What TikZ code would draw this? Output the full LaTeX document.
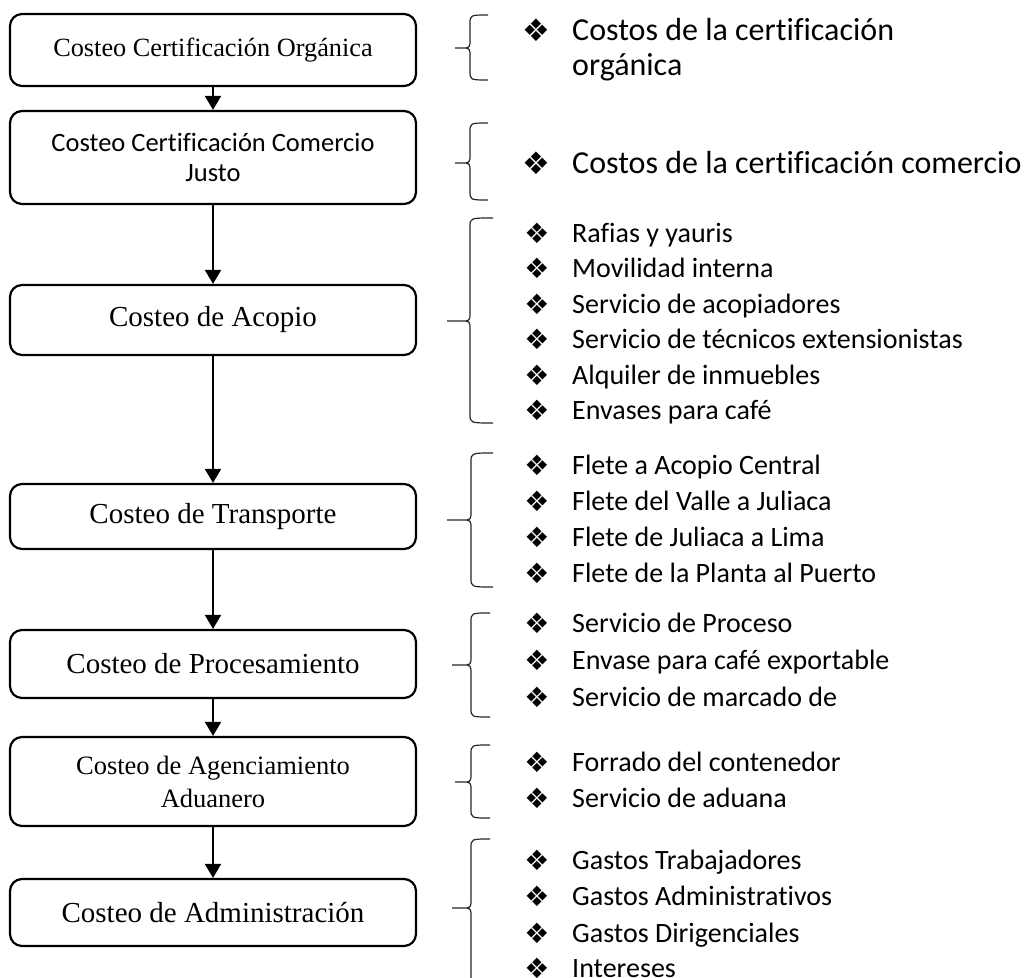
\documentclass[tikz,border=0pt]{standalone}
\usepackage{fontspec}
\setmainfont{Liberation Serif}
\newfontfamily\calfont[Ligatures=NoCommon]{Carlito}
\newfontfamily\dvfont{DejaVu Sans}
\usetikzlibrary{arrows.meta}
\newcommand\costbrace[6]{%
  \draw[brc] (#3,#4) .. controls (#2,#4) .. (#2,#4+9) -- (#2,#5-9)
    .. controls (#2,#5) .. (#2-9,#5) -- (#1,#5) -- (#2-9,#5)
    .. controls (#2,#5) .. (#2,#5+9) -- (#2,#6-9)
    .. controls (#2,#6) .. (#3,#6);}
\newcommand\costrow[3]{%
  \node[bul] (#1b) at (537,#2) {❖};
  \node[itm] (#1t) at (572,#2+9) {#3};}
\begin{document}
\begin{tikzpicture}[x=1pt,y=-1pt,
  box/.style={draw=black, line width=2.2pt, rounded corners=12pt, minimum width=406pt,
    inner sep=0pt, align=center, font=\fontsize{29}{33}\selectfont},
  arr/.style={line width=2pt, -{Triangle[width=16pt,length=14pt]}},
  brc/.style={line width=1.2pt, draw=black!85},
  bul/.style={inner sep=0pt, font=\dvfont\fontsize{28}{28}\selectfont},
  itm/.style={inner sep=0pt, anchor=base west, font=\calfont\fontsize{28}{28}\selectfont},
  big/.style={font=\calfont\fontsize{32}{32}\selectfont}]
\useasboundingbox (0,0) rectangle (1027,977);
% boxes
\node[box, minimum height=72pt, font=\fontsize{26.3}{30}\selectfont] (c1) at (213,50) {Costeo Certificación Orgánica};
\node[box, minimum height=93pt, font=\calfont\fontsize{26.5}{30}\selectfont] (c2) at (213,157.5) {Costeo Certificación Comercio\\Justo};
\node[box, minimum height=70pt] (c3) at (213,320) {Costeo de Acopio};
\node[box, minimum height=65pt] (c4) at (213,516.5) {Costeo de Transporte};
\node[box, minimum height=68pt] (c5) at (213,664) {Costeo de Procesamiento};
\node[box, minimum height=89pt, font=\fontsize{26.5}{33}\selectfont] (c6) at (213,781.5) {Costeo de Agenciamiento\\Aduanero};
\node[box, minimum height=67pt] (c7) at (213,912.5) {Costeo de Administración};
% arrows
\draw[arr] (c1) -- (c2);
\draw[arr] (c2) -- (c3);
\draw[arr] (c3) -- (c4);
\draw[arr] (c4) -- (c5);
\draw[arr] (c5) -- (c6);
\draw[arr] (c6) -- (c7);
% braces
\costbrace{455}{470}{488}{15}{48}{80}
\costbrace{455}{470}{488}{123}{163}{200}
\costbrace{447}{470}{493}{218}{321}{423}
\costbrace{447}{471}{493}{453}{520}{587}
\costbrace{452}{471}{490}{613}{665}{717}
\costbrace{455}{471}{490}{745}{782}{818}
\costbrace{452}{471}{490}{839}{908}{990}
% items
\node[bul, font=\dvfont\fontsize{31}{31}\selectfont] (o1b) at (536,30) {❖};
\node[itm, big] (o1t) at (572,40) {Costos de la certificación};
\node[itm, big] (o1u) at (572,75) {orgánica};
\node[bul, font=\dvfont\fontsize{31}{31}\selectfont] (o2b) at (536,163) {❖};
\node[itm, big] (o2t) at (572,173) {Costos de la certificación comercio};
\costrow{a1}{233}{Rafias y yauris}
\costrow{a2}{268.5}{Movilidad interna}
\costrow{a3}{304}{Servicio de acopiadores}
\costrow{a4}{339.5}{Servicio de técnicos extensionistas}
\costrow{a5}{375}{Alquiler de inmuebles}
\costrow{a6}{410.5}{Envases para café}
\costrow{t1}{465}{Flete a Acopio Central}
\costrow{t2}{501}{Flete del Valle a Juliaca}
\costrow{t3}{537}{Flete de Juliaca a Lima}
\costrow{t4}{573}{Flete de la Planta al Puerto}
\costrow{p1}{623}{Servicio de Proceso}
\costrow{p2}{660}{Envase para café exportable}
\costrow{p3}{697}{Servicio de marcado de}
\costrow{d1}{762}{Forrado del contenedor}
\costrow{d2}{798}{Servicio de aduana}
\costrow{g1}{860}{Gastos Trabajadores}
\costrow{g2}{896}{Gastos Administrativos}
\costrow{g3}{933}{Gastos Dirigenciales}
\costrow{g4}{968}{Intereses}
\end{tikzpicture}
\end{document}
